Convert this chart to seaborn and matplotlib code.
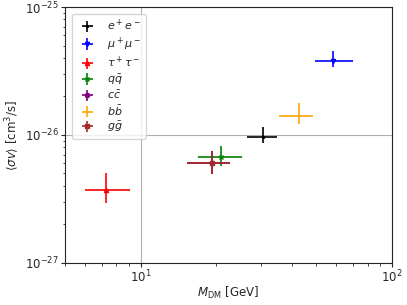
import matplotlib
matplotlib.use("Agg")
import matplotlib.pyplot as plt
import seaborn as sns
import numpy as np
import pandas as pd

channels = [r'$e^+e^-$', r'$\mu^+\mu^-$', r'$\tau^+\tau^-$', r'$q\bar{q}$',
            r'$c\bar{c}$', r'$b\bar{b}$', r'$g\bar{g}$']
colors = ['black', 'blue', 'red', 'green', 'purple', 'orange', 'brown']
markers = ['.', 'v', '^', 'x', 'o', '', 's']

mass = [30.6, 58.2, 7.30, 20.9, 19.2, 42.6, 19.2]
mass_lo = [26.5, 49.4, 5.98, 16.9, 15.3, 35.5, 15.3]
mass_hi = [34.8, 69.8, 9.04, 25.2, 22.6, 48.4, 22.6]
sigv = [0.96e-26, 3.81e-26, 0.372e-26, 0.677e-26, 0.601e-26, 1.415e-26, 0.601e-26]
sigv_lo = [0.86e-26, 3.42e-26, 0.293e-26, 0.57e-26, 0.496e-26, 1.225e-26, 0.496e-26]
sigv_hi = [1.15e-26, 4.51e-26, 0.502e-26, 0.825e-26, 0.746e-26, 1.77e-26, 0.746e-26]

df = pd.DataFrame(dict(channel=channels, mass=mass, mass_lo=mass_lo, mass_hi=mass_hi,
                       sigv=sigv, sigv_lo=sigv_lo, sigv_hi=sigv_hi))

sns.set_style("ticks")
plt.rcParams.update({
    'font.size': 8.5,
    'xtick.major.size': 3.0, 'ytick.major.size': 3.0,
    'xtick.minor.size': 1.8, 'ytick.minor.size': 1.8,
    'xtick.major.pad': 1.5, 'ytick.major.pad': 1.5,
    'xtick.minor.pad': 1.5, 'ytick.minor.pad': 1.5,
    'xtick.major.width': 0.8, 'ytick.major.width': 0.8,
    'axes.linewidth': 0.8,
})
fig = plt.figure(figsize=(4.07, 3.05), dpi=100)
ax = fig.add_axes([0.16, 0.138, 0.803, 0.839])

for i, r in df.iterrows():
    xerr = [[r.mass - r.mass_lo], [r.mass_hi - r.mass]]
    yerr = [[r.sigv - r.sigv_lo], [r.sigv_hi - r.sigv]]
    ax.errorbar([r.mass], [r.sigv], xerr=xerr, yerr=yerr, color=colors[i],
                marker=markers[i] if markers[i] else None, markersize=3,
                linestyle='none', label=r.channel, elinewidth=1.2)

ax.set_xscale('log')
ax.set_yscale('log')
ax.set_xlim(5, 100)
ax.set_ylim(1e-27, 1e-25)
ax.grid(True, which='major', color='#b0b0b0', linewidth=0.8)
ax.set_axisbelow(True)
ax.set_xlabel(r'$M_{\rm DM}$ [GeV]', va='center')
ax.set_ylabel(r'$\langle\sigma v\rangle$ [cm$^3$/s]', va='center')
ax.xaxis.set_label_coords(0.5, -0.117)
ax.yaxis.set_label_coords(-0.162, 0.5)
ax.legend(loc='upper left', frameon=True, fontsize=8, labelspacing=0.2,
          borderaxespad=0.6)
fig.savefig("out.png", dpi=100)
